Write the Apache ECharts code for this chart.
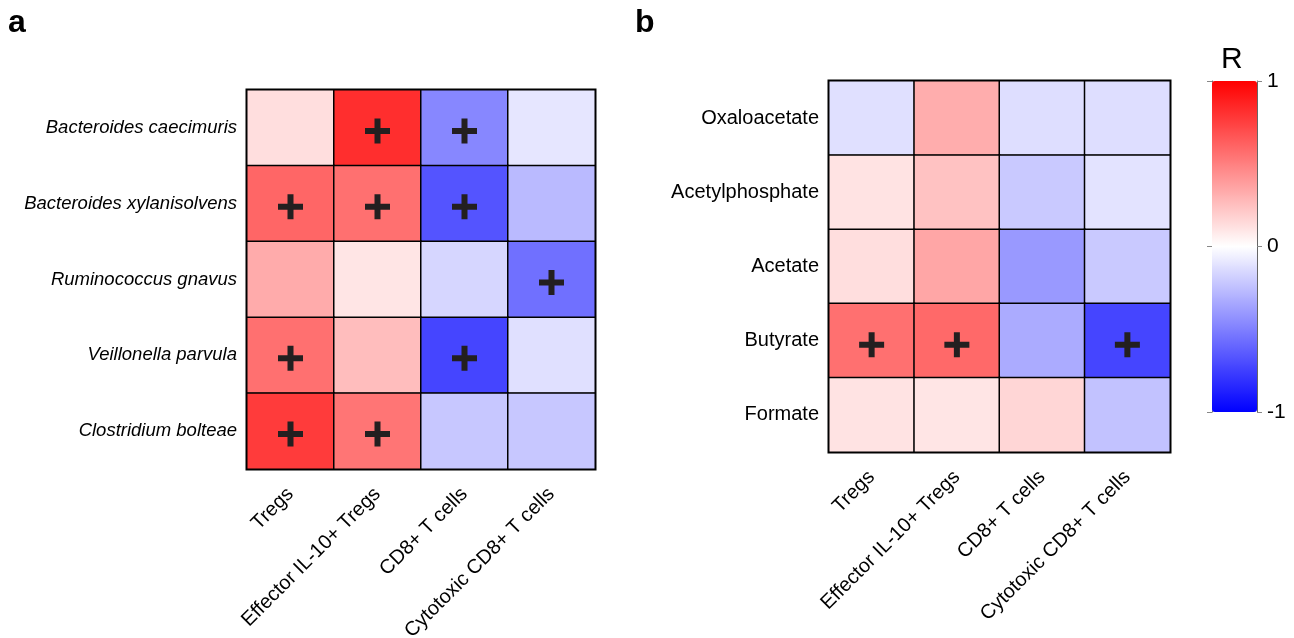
<!DOCTYPE html>
<html>
<head>
<meta charset="utf-8">
<script src="https://cdn.jsdelivr.net/npm/echarts@6/dist/echarts.min.js"></script>
<style>
html,body{margin:0;padding:0;background:#fff;}
#chart{width:1294px;height:638px;}
</style>
</head>
<body>
<div id="chart"></div>
<script>
// ---- data ----
var cellTypes = ['Tregs', 'Effector IL-10+ Tregs', 'CD8+ T cells', 'Cytotoxic CD8+ T cells'];
var bacteria = ['Bacteroides caecimuris', 'Bacteroides xylanisolvens', 'Ruminococcus gnavus', 'Veillonella parvula', 'Clostridium bolteae'];
var metabolites = ['Oxaloacetate', 'Acetylphosphate', 'Acetate', 'Butyrate', 'Formate'];
// R values, one row per y category, columns follow cellTypes
var rBacteria = [
  [0.13, 0.82, -0.47, -0.10],
  [0.60, 0.56, -0.67, -0.27],
  [0.33, 0.10, -0.16, -0.56],
  [0.56, 0.26, -0.73, -0.12],
  [0.77, 0.54, -0.22, -0.22]
];
var rMetabolites = [
  [-0.12, 0.32, -0.13, -0.13],
  [0.11, 0.24, -0.21, -0.11],
  [0.13, 0.35, -0.40, -0.21],
  [0.56, 0.59, -0.33, -0.73],
  [0.11, 0.10, 0.16, -0.24]
];
// significance (+) flags
var sigBacteria = [
  [0, 1, 1, 0],
  [1, 1, 1, 0],
  [0, 0, 0, 1],
  [1, 0, 1, 0],
  [1, 1, 0, 0]
];
var sigMetabolites = [
  [0, 0, 0, 0],
  [0, 0, 0, 0],
  [0, 0, 0, 0],
  [1, 1, 0, 1],
  [0, 0, 0, 0]
];
var colorbarTicks = [-1, 0, 1];

// ---- build ----
function toHeat(m) {
  var out = [];
  m.forEach(function (row, r) { row.forEach(function (v, c) { out.push([c, r, v]); }); });
  return out;
}
function toSig(m) {
  var out = [];
  m.forEach(function (row, r) { row.forEach(function (v, c) { if (v) out.push([c, r]); }); });
  return out;
}
var FONT = 'Liberation Sans, Arial, sans-serif';
var plusPath = 'path://M9.5,0H15.5V9.5H25V15.5H15.5V25H9.5V15.5H0V9.5H9.5Z';

function xCat(gi) {
  return {
    type: 'category', gridIndex: gi, data: cellTypes,
    axisLine: { show: false }, axisTick: { show: false }, splitLine: { show: false },
    axisLabel: { rotate: 45, fontSize: 20, color: '#000', fontFamily: FONT, margin: 22, interval: 0 }
  };
}
function yCat(gi, cats, italic, size) {
  return {
    type: 'category', gridIndex: gi, data: cats, inverse: true,
    axisLine: { show: false }, axisTick: { show: false }, splitLine: { show: false },
    axisLabel: { fontSize: size, color: '#000', fontFamily: FONT, fontStyle: italic ? 'italic' : 'normal', margin: 10, interval: 0 }
  };
}

var chart = echarts.init(document.getElementById('chart'), null, { renderer: 'canvas' });
chart.setOption({
  backgroundColor: '#fff',
  animation: false,
  title: [
    { text: 'a', left: 3, top: 2, textStyle: { fontSize: 32, fontWeight: 'bold', color: '#000', fontFamily: FONT } },
    { text: 'b', left: 630, top: 2, textStyle: { fontSize: 32, fontWeight: 'bold', color: '#000', fontFamily: FONT } },
    { text: 'R', left: 1216, top: 40, textStyle: { fontSize: 30, fontWeight: 'normal', color: '#000', fontFamily: FONT } }
  ],
  grid: [
    { left: 247, top: 90, width: 348, height: 379, show: true, borderColor: '#000', borderWidth: 3, backgroundColor: 'transparent', containLabel: false, outerBoundsMode: 'none' },
    { left: 829, top: 81, width: 341, height: 371, show: true, borderColor: '#000', borderWidth: 3, backgroundColor: 'transparent', containLabel: false, outerBoundsMode: 'none' },
    { left: 1212, top: 81, width: 45, height: 331, show: false, containLabel: false, outerBoundsMode: 'none' }
  ],
  xAxis: [
    xCat(0), xCat(1),
    { type: 'value', gridIndex: 2, show: false }
  ],
  yAxis: [
    yCat(0, bacteria, true, 18.5), yCat(1, metabolites, false, 20),
    {
      type: 'value', gridIndex: 2, min: -1, max: 1, interval: 1, position: 'left',
      axisLine: { show: true, lineStyle: { color: '#666', width: 1 } },
      axisTick: { show: true, length: 5, lineStyle: { color: '#888', width: 1 } },
      axisLabel: { show: false }, splitLine: { show: false }
    },
    {
      type: 'value', gridIndex: 2, min: -1, max: 1, interval: 1, position: 'right',
      axisLine: { show: true, lineStyle: { color: '#666', width: 1 } },
      axisTick: { show: true, length: 5, lineStyle: { color: '#888', width: 1 } },
      axisLabel: { show: true, fontSize: 21, color: '#000', fontFamily: FONT, margin: 10,
        customValues: colorbarTicks },
      splitLine: { show: false }
    }
  ],
  visualMap: {
    type: 'continuous', min: -1, max: 1, calculable: false, seriesIndex: [0, 1],
    left: 1212, top: 81, itemWidth: 45, itemHeight: 331, padding: 0,
    orient: 'vertical', text: null, showLabel: false,
    inRange: { color: ['#0000ff', '#ffffff', '#ff0000'] }
  },
  series: [
    { type: 'heatmap', xAxisIndex: 0, yAxisIndex: 0, data: toHeat(rBacteria),
      itemStyle: { borderColor: '#000', borderWidth: 1.5 }, emphasis: { disabled: true } },
    { type: 'heatmap', xAxisIndex: 1, yAxisIndex: 1, data: toHeat(rMetabolites),
      itemStyle: { borderColor: '#000', borderWidth: 1.5 }, emphasis: { disabled: true } },
    { type: 'scatter', xAxisIndex: 0, yAxisIndex: 0, data: toSig(sigBacteria), symbol: plusPath,
      symbolSize: 25, symbolOffset: [0, 3], itemStyle: { color: '#231f20', opacity: 1 }, z: 5, silent: true },
    { type: 'scatter', xAxisIndex: 1, yAxisIndex: 1, data: toSig(sigMetabolites), symbol: plusPath,
      symbolSize: 25, symbolOffset: [0, 4], itemStyle: { color: '#231f20', opacity: 1 }, z: 5, silent: true }
  ]
});
</script>
</body>
</html>
